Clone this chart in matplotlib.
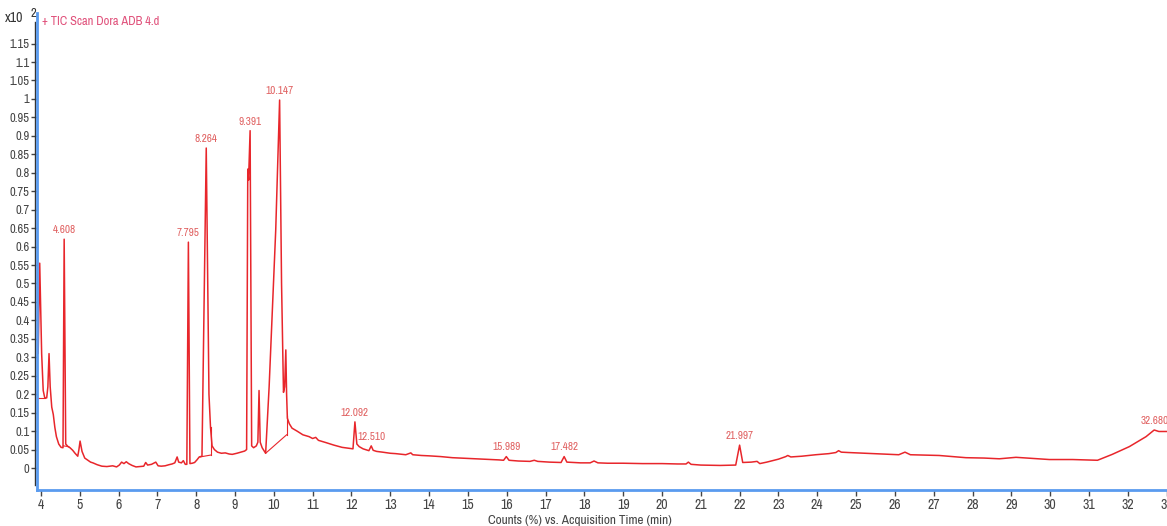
import matplotlib
matplotlib.use('Agg')
import matplotlib.pyplot as plt

plt.rcParams['font.family'] = ['Archivo Narrow', 'DejaVu Sans']

# TIC trace (time in min, counts in units of 10^2 %)
time_min = [3.90, 3.93, 3.97, 4.02, 4.06, 4.10, 4.15, 4.18, 4.21, 4.24, 4.28, 4.32, 4.36, 4.40,
            4.46, 4.52, 4.57, 4.60, 4.64, 4.70, 4.75, 4.82, 4.88, 4.95, 4.98, 5.01, 5.06, 5.13,
            5.20, 5.28, 5.34, 5.45, 5.57, 5.70, 5.85, 5.95, 6.02, 6.08, 6.14, 6.20, 6.26, 6.35,
            6.45, 6.55, 6.65, 6.70, 6.75, 6.85, 6.96, 7.02, 7.10, 7.20, 7.30, 7.38, 7.45, 7.51,
            7.55, 7.62, 7.67, 7.72, 7.76, 7.80, 7.84, 7.90, 7.96, 8.02, 8.08, 8.15, 8.26, 8.33,
            8.37, 8.41, 8.47, 8.55, 8.65, 8.75, 8.85, 8.93, 9.05, 9.15, 9.25, 9.30, 9.33, 9.35,
            9.39, 9.43, 9.48, 9.55, 9.59, 9.62, 9.65, 9.70, 9.79, 9.88, 10.05, 10.15, 10.20,
            10.25, 10.28, 10.31, 10.33, 10.35, 10.40, 10.47, 10.60, 10.75, 10.91, 11.00, 11.08,
            11.15, 11.34, 11.55, 11.76, 11.98, 12.04, 12.09, 12.14, 12.20, 12.30, 12.45, 12.51,
            12.56, 12.65, 12.80, 13.00, 13.14, 13.40, 13.53, 13.58, 13.80, 14.00, 14.30, 14.60,
            15.00, 15.40, 15.80, 15.92, 15.99, 16.06, 16.30, 16.60, 16.71, 16.80, 17.10, 17.40,
            17.48, 17.55, 17.90, 18.15, 18.25, 18.35, 18.60, 19.00, 19.50, 20.00, 20.40, 20.62,
            20.68, 20.75, 21.00, 21.50, 21.90, 22.00, 22.08, 22.30, 22.45, 22.52, 22.70, 23.00,
            23.19, 23.24, 23.32, 23.60, 23.96, 24.30, 24.48, 24.55, 24.62, 24.80, 25.25, 25.70,
            26.10, 26.26, 26.40, 27.14, 27.83, 28.30, 28.69, 29.12, 29.55, 29.98, 30.58, 31.22,
            31.60, 32.04, 32.47, 32.68, 32.80, 33.00]
counts = [0.42, 0.31, 0.555, 0.31, 0.21, 0.19, 0.19, 0.22, 0.31, 0.22, 0.165, 0.145, 0.11, 0.085,
          0.065, 0.056, 0.055, 0.62, 0.065, 0.058, 0.055, 0.048, 0.04, 0.032, 0.05, 0.073, 0.045, 0.027,
          0.022, 0.016, 0.014, 0.009, 0.005, 0.004, 0.006, 0.003, 0.008, 0.016, 0.012, 0.017, 0.012, 0.007,
          0.003, 0.004, 0.005, 0.015, 0.008, 0.01, 0.016, 0.006, 0.005, 0.006, 0.009, 0.011, 0.014, 0.03,
          0.016, 0.014, 0.02, 0.01, 0.01, 0.612, 0.012, 0.013, 0.015, 0.022, 0.03, 0.032, 0.867, 0.2,
          0.11, 0.06, 0.05, 0.043, 0.04, 0.041, 0.038, 0.037, 0.04, 0.043, 0.046, 0.05, 0.81, 0.78,
          0.914, 0.06, 0.055, 0.06, 0.07, 0.21, 0.07, 0.055, 0.04, 0.22, 0.645, 0.997, 0.5,
          0.205, 0.22, 0.32, 0.2, 0.135, 0.12, 0.108, 0.1, 0.09, 0.085, 0.08, 0.083,
          0.075, 0.069, 0.062, 0.056, 0.053, 0.052, 0.125, 0.065, 0.058, 0.052, 0.047, 0.06,
          0.048, 0.045, 0.043, 0.04, 0.039, 0.036, 0.041, 0.036, 0.034, 0.033, 0.031, 0.028,
          0.026, 0.024, 0.022, 0.021, 0.031, 0.021, 0.019, 0.018, 0.021, 0.018, 0.016, 0.015,
          0.031, 0.016, 0.014, 0.014, 0.019, 0.014, 0.013, 0.013, 0.012, 0.012, 0.011, 0.011,
          0.016, 0.01, 0.008, 0.007, 0.008, 0.062, 0.015, 0.016, 0.018, 0.012, 0.016, 0.024,
          0.031, 0.034, 0.03, 0.032, 0.036, 0.039, 0.042, 0.047, 0.043, 0.042, 0.04, 0.038,
          0.036, 0.043, 0.036, 0.034, 0.028, 0.027, 0.025, 0.029, 0.026, 0.023, 0.023, 0.021,
          0.037, 0.058, 0.085, 0.103, 0.099, 0.099]

# integration baselines (start time, start value, end time, end value)
base_t0 = [3.90, 4.58, 8.10, 8.37, 9.79, 10.33]
base_v0 = [0.19, 0.06, 0.030, 0.035, 0.040, 0.09]
base_t1 = [4.10, 4.72, 8.37, 8.37, 10.33, 10.33]
base_v1 = [0.19, 0.058, 0.035, 0.11, 0.09, 0.14]

# labelled peaks
peak_labels = ['4.608', '7.795', '8.264', '9.391', '10.147', '12.092', '12.510',
               '15.989', '17.482', '21.997', '32.680']
peak_times = [4.60, 7.80, 8.26, 9.39, 10.15, 12.09, 12.51, 15.99, 17.48, 22.00, 32.68]
peak_heights = [0.62, 0.612, 0.867, 0.914, 0.997, 0.125, 0.06, 0.031, 0.031, 0.062, 0.103]

yticks = [i * 0.05 for i in range(24)]
xticks = list(range(4, 34))

red = '#e8262b'
blue = '#5a9bef'

fig = plt.figure(figsize=(11.67, 5.26), dpi=100)
ax = fig.add_axes([0.0317, 0.0684, 0.9683, 0.907])

ax.plot(time_min, counts, color=red, lw=1.1)
for a, b, c, d in zip(base_t0, base_v0, base_t1, base_v1):
    ax.plot([a, c], [b, d], color=red, lw=0.8)

for lab, t, h in zip(peak_labels, peak_times, peak_heights):
    ax.annotate(lab, (t, h), xytext=(0, 3), textcoords='offset points',
                ha='center', va='bottom', fontsize=8, color='#e06060')

ax.set_xlim(3.9, 33.01)
ax.set_ylim(-0.0596, 1.233)
ax.set_yticks(yticks)
ax.set_yticklabels(['%g' % round(v, 2) for v in yticks])
ax.set_xticks(xticks)

for s in ['top', 'right']:
    ax.spines[s].set_visible(False)
for s in ['left', 'bottom']:
    ax.spines[s].set_color(blue)
    ax.spines[s].set_linewidth(2)

ax.tick_params(axis='y', direction='out', length=4, width=1, color='#444444',
               labelsize=9, labelcolor='#444444', pad=1.5)
ax.tick_params(axis='x', direction='out', length=4, width=1, color='#444444',
               labelsize=10, labelcolor='#444444', pad=2)

# dark axis line next to the blue frame
ax.plot([-0.002, -0.002], [0.01, 0.98], transform=ax.transAxes, color='#333333',
        lw=1, clip_on=False)

fig.text(0.004, 0.965, 'x10', fontsize=10, color='#333333', va='center')
fig.text(0.0265, 0.974, '2', fontsize=9, color='#333333', va='center')
fig.text(0.036, 0.96, '+ TIC Scan Dora ADB 4.d', fontsize=9, color='#e0507a', va='center')
fig.text(0.497, 0.011, 'Counts (%) vs. Acquisition Time (min)', fontsize=9.5,
         color='#444444', ha='center', va='center')

fig.savefig('out.png', dpi=100)
